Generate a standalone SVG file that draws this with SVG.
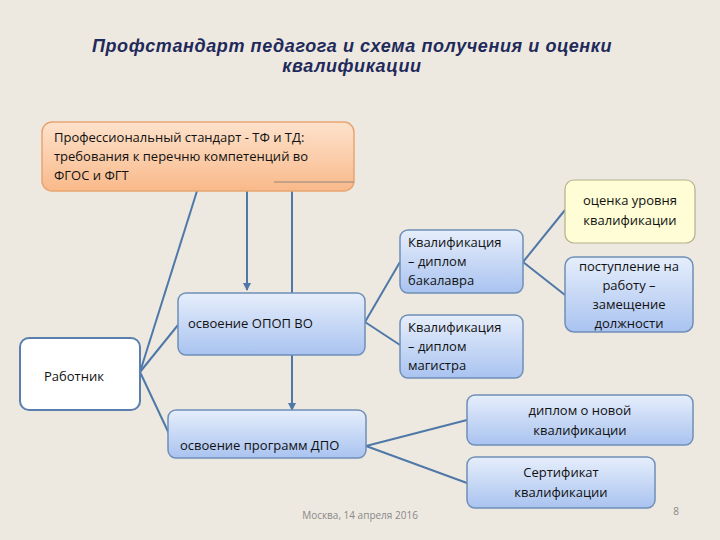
<svg xmlns="http://www.w3.org/2000/svg" width="720" height="540" viewBox="0 0 720 540">
<defs>
<linearGradient id="blue" x1="0" y1="0" x2="0" y2="1"><stop offset="0" stop-color="#e6eefb"/><stop offset="1" stop-color="#a9c3f0"/></linearGradient>
<linearGradient id="orange" x1="0" y1="0" x2="0" y2="1"><stop offset="0" stop-color="#fde2cc"/><stop offset="1" stop-color="#f9b98a"/></linearGradient>
<marker id="arr" markerWidth="8" markerHeight="8" refX="7" refY="4" orient="auto" markerUnits="userSpaceOnUse"><path d="M0,0 L8,4 L0,8 z" fill="#4f78a8"/></marker>
<style>
.b{fill:url(#blue);stroke:#6f8fb8;stroke-width:1.5}
.t{font-family:"Open Sans","Noto Sans",sans-serif;font-size:13px;fill:#111}
.c{stroke:#4f78a8;stroke-width:2;fill:none}
</style>
</defs>
<rect width="720" height="540" fill="#ede9e1"/>
<text font-family="Liberation Sans,sans-serif" font-size="18" font-weight="bold" font-style="italic" fill="#1f2a5a" text-anchor="middle" letter-spacing="0.6"><tspan x="352" y="52">Профстандарт педагога и схема получения  и оценки</tspan><tspan x="352" y="72">квалификации</tspan></text>
<g id="connectors">
<line class="c" x1="197" y1="191" x2="140" y2="372"/>
<line class="c" x1="247" y1="191" x2="247" y2="290" marker-end="url(#arr)"/>
<line class="c" x1="292" y1="191" x2="292" y2="293"/>
<line class="c" x1="292" y1="355" x2="292" y2="410" marker-end="url(#arr)"/>
<line class="c" x1="140" y1="372" x2="178" y2="325"/>
<line class="c" x1="140" y1="372" x2="172" y2="440"/>
<line class="c" x1="365" y1="322" x2="400" y2="262"/>
<line class="c" x1="365" y1="322" x2="400" y2="345"/>
<line class="c" x1="523" y1="262" x2="565" y2="210"/>
<line class="c" x1="523" y1="262" x2="565" y2="295"/>
<line class="c" x1="366" y1="446" x2="467" y2="420"/>
<line class="c" x1="366" y1="446" x2="467" y2="483"/>
</g>
<g id="prof"><rect x="42" y="122" width="312" height="69" rx="10" fill="url(#orange)" stroke="#e8a572" stroke-width="1.5"/>
<line x1="274" y1="182" x2="354" y2="182" stroke="#777" stroke-width="0.8"/>
<text class="t"><tspan x="54" y="142">Профессиональный стандарт - ТФ и ТД:</tspan><tspan x="54" y="161">требования к перечню компетенций во</tspan><tspan x="54" y="180">ФГОС и ФГТ</tspan></text></g>
<g id="opop"><rect class="b" x="178" y="293" width="187" height="62" rx="8"/><text class="t" x="188" y="328">освоение ОПОП ВО</text></g>
<g id="dpo"><rect class="b" x="168" y="410" width="198" height="48" rx="8"/><text class="t" x="180" y="450">освоение программ ДПО</text></g>
<g id="worker"><rect x="20" y="338" width="120" height="72" rx="9" fill="#fff" stroke="#5a7fae" stroke-width="2"/><text class="t" x="44" y="381" font-size="14.5" fill="#000">Работник</text></g>
<g id="bak"><rect class="b" x="400" y="230" width="123" height="63" rx="8"/><text class="t"><tspan x="408" y="247">Квалификация</tspan><tspan x="408" y="266">– диплом</tspan><tspan x="408" y="285">бакалавра</tspan></text></g>
<g id="mag"><rect class="b" x="400" y="315" width="123" height="63" rx="8"/><text class="t"><tspan x="408" y="332">Квалификация</tspan><tspan x="408" y="351">– диплом</tspan><tspan x="408" y="370">магистра</tspan></text></g>
<g id="ocenka"><rect x="565" y="180" width="130" height="63" rx="9" fill="#fefdd5" stroke="#b3b08a" stroke-width="1.2"/><text class="t" text-anchor="middle"><tspan x="630" y="205">оценка уровня</tspan><tspan x="630" y="225">квалификации</tspan></text></g>
<g id="post"><rect class="b" x="565" y="257" width="128" height="75" rx="9"/><text class="t" text-anchor="middle"><tspan x="629" y="271">поступление на</tspan><tspan x="629" y="290">работу –</tspan><tspan x="629" y="309">замещение</tspan><tspan x="629" y="328">должности</tspan></text></g>
<g id="diplom"><rect class="b" x="467" y="395" width="226" height="50" rx="8"/><text class="t" text-anchor="middle"><tspan x="580" y="415">диплом о новой</tspan><tspan x="580" y="435">квалификации</tspan></text></g>
<g id="sert"><rect class="b" x="467" y="457" width="188" height="51" rx="8"/><text class="t" text-anchor="middle"><tspan x="561" y="477">Сертификат</tspan><tspan x="561" y="497">квалификации</tspan></text></g>
<text font-family="Open Sans,sans-serif" font-size="10" fill="#888" x="360" y="519" text-anchor="middle">Москва, 14 апреля 2016</text>
<text font-family="Open Sans,sans-serif" font-size="10" fill="#888" x="676" y="515" text-anchor="middle">8</text>
</svg>
